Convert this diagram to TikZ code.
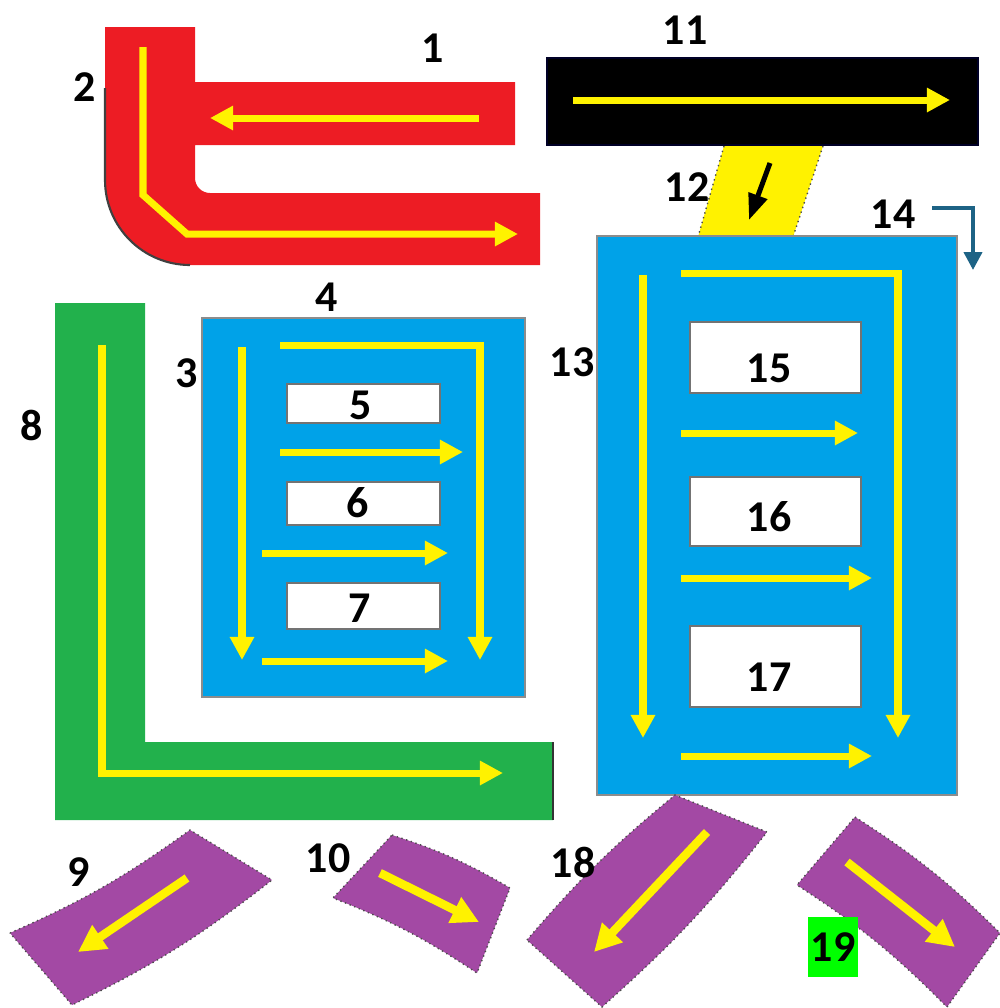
\documentclass[tikz,border=0pt]{standalone}
\usepackage{fontspec}
\setmainfont{Carlito}
\usetikzlibrary{arrows.meta}
\definecolor{redfill}{HTML}{ED1C24}
\definecolor{bluefill}{HTML}{00A2E8}
\definecolor{greenfill}{HTML}{22B14C}
\definecolor{purplefill}{HTML}{A349A4}
\definecolor{limefill}{HTML}{00FF00}
\definecolor{tealline}{HTML}{1D6385}
\tikzset{
    lbl/.style={font=\fontsize{12.5}{14}\selectfont\bfseries, inner sep=0pt},
    yarrow/.style={draw=yellow, line width=0.07cm, -{Triangle[length=0.23cm, width=0.23cm]}},
    yline/.style={draw=yellow, line width=0.07cm},
    parrow/.style={draw=yellow, line width=0.085cm, -{Triangle[length=0.27cm, width=0.27cm]}},
    piece/.style={fill=purplefill, draw=black!70, densely dotted, line width=0.4pt},
    hole/.style={fill=white, draw=black!55, line width=0.5pt},
    panel/.style={fill=bluefill, draw=black!45, line width=0.4pt}
}
\begin{document}
\begin{tikzpicture}[x=0.01cm, y=0.01cm]
\useasboundingbox (0,0) rectangle (1000,-1008);

% red channel (1, 2)
\fill[redfill] (105,-27) -- (195,-27) -- (195,-82) -- (515,-82) -- (515,-145)
    -- (195,-145) -- (195,-178) arc[start angle=180, end angle=270, radius=15]
    -- (540,-193) -- (540,-265) -- (190,-265)
    arc[start angle=270, end angle=180, radius=85] -- cycle;
\draw[black!75, line width=0.6pt] (105,-88) -- (105,-180)
    arc[start angle=180, end angle=270, radius=85];
\draw[yarrow] (479,-118) -- (210,-118);
\draw[yarrow] (143,-47) -- (143,-195) -- (187,-234) -- (518,-234);
\node[lbl] (lab1) at (433,-48) {1};
\node[lbl] (lab2) at (85,-87) {2};

% black bar (11) and yellow chute (12)
\draw[fill=black, draw=black!85!blue, line width=0.8pt] (547,-58) rectangle (978,-145);
\draw[yarrow] (573,-100) -- (950,-100);
\fill[yellow] (724,-146) -- (823,-146) -- (793,-237) -- (698,-237) -- cycle;
\draw[black!70, densely dotted, line width=0.4pt] (724,-146) -- (698,-237);
\draw[black!70, densely dotted, line width=0.4pt] (823,-146) -- (793,-237);
\draw[black, line width=0.05cm, -{Triangle[length=0.26cm, width=0.19cm]}] (770,-163) -- (749,-220);
\node[lbl] (lab11) at (685,-30) {11};
\node[lbl] (lab12) at (687,-187) {12};

% arrow 14
\draw[tealline, line width=0.04cm, -{Triangle[length=0.18cm, width=0.18cm]}]
    (932,-208) -- (973,-208) -- (973,-270);
\node[lbl] (lab14) at (893,-214) {14};

% big blue panel (13)
\draw[panel] (597,-236) rectangle (957,-795);
\draw[hole] (690,-322) rectangle (861,-393);
\draw[hole] (690,-477) rectangle (861,-546);
\draw[hole] (690,-626) rectangle (861,-707);
\draw[yarrow] (643,-275) -- (643,-738);
\draw[yarrow] (681,-273) -- (898,-273) -- (898,-738);
\draw[yarrow] (681,-433) -- (858,-433);
\draw[yarrow] (681,-578) -- (872,-578);
\draw[yarrow] (681,-756) -- (872,-756);
\node[lbl] (lab13) at (572,-362) {13};
\node[lbl] (lab15) at (769,-368) {15};
\node[lbl] (lab16) at (769,-517) {16};
\node[lbl] (lab17) at (769,-677) {17};

% small blue panel (3, 4)
\draw[panel] (202,-318) rectangle (525,-697);
\draw[hole] (287,-384) rectangle (440,-423);
\draw[hole] (287,-482) rectangle (440,-525);
\draw[hole] (287,-583) rectangle (440,-629);
\draw[yarrow] (242,-347) -- (242,-660);
\draw[yarrow] (280,-345) -- (480,-345) -- (480,-660);
\draw[yarrow] (280,-452) -- (463,-452);
\draw[yarrow] (262,-553) -- (448,-553);
\draw[yarrow] (262,-661) -- (448,-661);
\node[lbl] (lab3) at (187,-373) {3};
\node[lbl] (lab4) at (327,-297) {4};
\node[lbl] (lab5) at (361,-405) {5};
\node[lbl] (lab6) at (358,-503) {6};
\node[lbl] (lab7) at (360,-608) {7};

% green channel (8)
\fill[greenfill] (55,-303) -- (145,-303) -- (145,-742) -- (553,-742) -- (553,-820)
    -- (55,-820) -- cycle;
\draw[black!80, line width=0.6pt] (553,-742) -- (553,-820);
\draw[yarrow] (102,-345) -- (102,-773) -- (503,-773);
\node[lbl] (lab8) at (32,-425) {8};

% purple pieces (9, 10, 18, 19)
\draw[piece] (10,-933) to[bend right=6] (190,-830) -- (272,-880)
    to[bend left=6] (72,-1005) -- cycle;
\draw[parrow] (187,-878) -- (78,-952);
\node[lbl] (lab9) at (79,-872) {9};

\draw[piece] (392,-835) to[bend left=6] (510,-888) -- (477,-973)
    to[bend right=6] (333,-898) -- cycle;
\draw[parrow] (380,-873) -- (479,-922);
\node[lbl] (lab10) at (328,-858) {10};

\draw[piece] (527,-940) to[bend left=5] (675,-795) -- (767,-832)
    to[bend left=5] (602,-1007) -- cycle;
\draw[parrow] (707,-832) -- (594,-952);
\node[lbl] (lab18) at (573,-862) {18};

\draw[piece] (855,-817) to[bend left=6] (1000,-933) -- (947,-1007)
    to[bend right=6] (797,-885) -- cycle;
\draw[parrow] (847,-862) -- (955,-947);
\node[lbl, fill=limefill, minimum width=0.49cm, minimum height=0.59cm] (lab19) at (833,-947) {19};
\end{tikzpicture}
\end{document}
